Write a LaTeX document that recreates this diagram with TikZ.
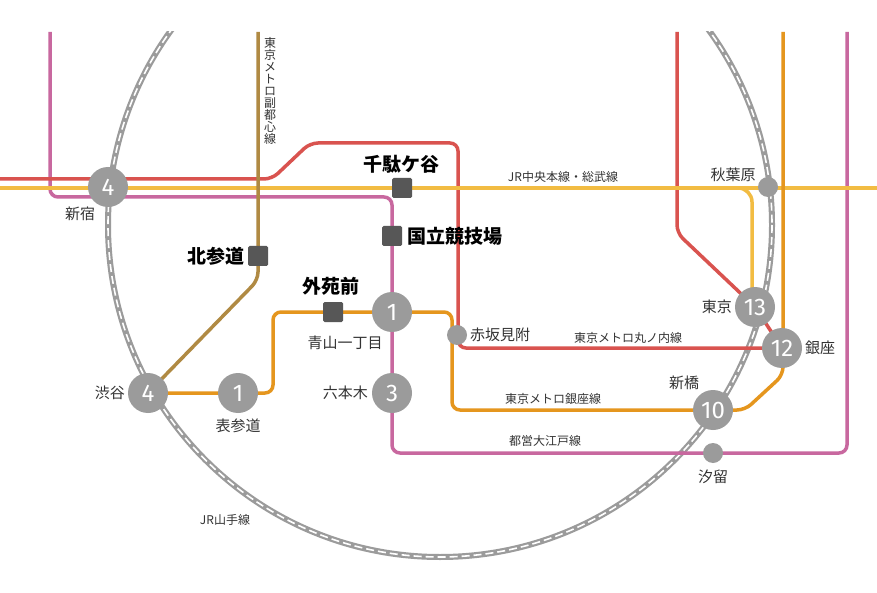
\documentclass[tikz,border=0pt]{standalone}
\usepackage{fontspec}
\setmainfont{Noto Sans CJK JP}
\newfontfamily\numfont{Fira Sans}
\definecolor{cred}{HTML}{D9534F}
\definecolor{cyel}{HTML}{F2BC42}
\definecolor{cpink}{HTML}{C8689F}
\definecolor{corg}{HTML}{E5961E}
\definecolor{cbrn}{HTML}{B08A43}
\definecolor{cgray}{HTML}{9B9B9B}
\definecolor{cdark}{HTML}{575757}
\definecolor{ctext}{HTML}{333333}
\tikzset{
 ln/.style={line width=3.5pt,rounded corners=8pt},
 num/.style={circle,fill=cgray,minimum size=40pt,inner sep=0pt,text=white,font=\fontsize{24}{24}\selectfont\numfont},
 dot/.style={circle,fill=cgray,minimum size=20pt,inner sep=0pt},
 sq/.style={fill=cdark,minimum size=20pt,inner sep=0pt,rounded corners=1.5pt},
 lbl/.style={text=ctext,font=\fontsize{15}{15}\selectfont,inner sep=1pt},
 blbl/.style={text=black,font=\fontsize{19}{19}\selectfont\bfseries,inner sep=1pt},
 slbl/.style={text=ctext,font=\fontsize{12}{12}\selectfont,inner sep=1pt},
}
\begin{document}
\begin{tikzpicture}[x=1pt,y=-1pt]
\useasboundingbox (0,0) rectangle (877,593);
\fill[white] (0,0) rectangle (877,593);
% Yamanote
\begin{scope}
\clip (0,32) rectangle (877,593);
\draw[cgray,line width=6pt] (440,225) circle (332);
\draw[white,line width=1.6pt,dash pattern=on 8pt off 4pt] (440,225) circle (332);
\end{scope}
% coordinates
\coordinate (shinjuku) at (108,187);
\coordinate (shibuya) at (148,393);
\coordinate (omote) at (238,393);
\coordinate (aoyama) at (392,312);
\coordinate (roppongi) at (392,393);
\coordinate (tokyo) at (755,307);
\coordinate (ginza) at (782,348);
\coordinate (shinbashi) at (713,410);
% pink Oedo
\draw[ln,cpink] (50,32) -- (50,197) -- (392,197) -- (392,453) -- (847,453) -- (847,32);
% red Marunouchi
\draw[ln,cred] (0,179) -- (272,179) -- (310,143) -- (458,143) -- (458,348) -- (ginza.center);
\draw[ln,cred] (677,32) -- (677,233) -- (tokyo.center) -- (ginza.center);
% yellow Chuo
\draw[cyel,line width=3.5pt] (0,188) -- (877,188);
\draw[ln,cyel,rounded corners=14pt] (720,188) -- (752,188) -- (752,300);
% orange Ginza
\draw[ln,corg] (shibuya.center) -- (273,393) -- (273,312) -- (452,312) -- (452,410) -- (745,410) -- (783,375) -- (783,32);
% brown Fukutoshin
\draw[ln,cbrn] (258,32) -- (258,280) -- (shibuya.center);
% stations
\node[num] (n1) at (shinjuku) {4};
\node[num] (n2) at (shibuya) {4};
\node[num] (n3) at (omote) {1};
\node[num] (n4) at (aoyama) {1};
\node[num] (n5) at (roppongi) {3};
\node[num] (n6) at (tokyo) {13};
\node[num] (n7) at (ginza) {12};
\node[num] (n8) at (shinbashi) {10};
\node[dot] (d1) at (457,335) {};
\node[dot] (d2) at (768,187) {};
\node[dot] (d3) at (713,453) {};
\node[sq] (s1) at (402,188) {};
\node[sq] (s2) at (392,236) {};
\node[sq] (s3) at (258,256) {};
\node[sq] (s4) at (333,312) {};
% labels
\node[lbl] at (80,214) {新宿};
\node[lbl,anchor=east] at (126,393) {渋谷};
\node[lbl] at (238,426) {表参道};
\node[lbl] at (345,343) {青山一丁目};
\node[lbl,anchor=east] at (369,393) {六本木};
\node[blbl,anchor=east] at (246,256) {北参道};
\node[blbl] at (331,286) {外苑前};
\node[blbl] at (401,164) {千駄ケ谷};
\node[blbl,anchor=west] at (406,236) {国立競技場};
\node[lbl,anchor=west] at (469,335) {赤坂見附};
\node[slbl] at (628,338) {東京メトロ丸ノ内線};
\node[lbl,anchor=east] at (733,307) {東京};
\node[lbl,anchor=west] at (804,348) {銀座};
\node[lbl] at (684,383) {新橋};
\node[slbl] at (553,399) {東京メトロ銀座線};
\node[slbl] at (545,441) {都営大江戸線};
\node[lbl] at (713,477) {汐留};
\node[lbl] at (733,175) {秋葉原};
\node[slbl] at (563,177) {JR中央本線・総武線};
\node[slbl] at (225,520) {JR山手線};
\node[slbl,align=center,anchor=north] at (270,36) {\fontsize{12}{13.5}\selectfont 東\\京\\メ\\ト\\ロ\\副\\都\\心\\線};
\end{tikzpicture}
\end{document}
